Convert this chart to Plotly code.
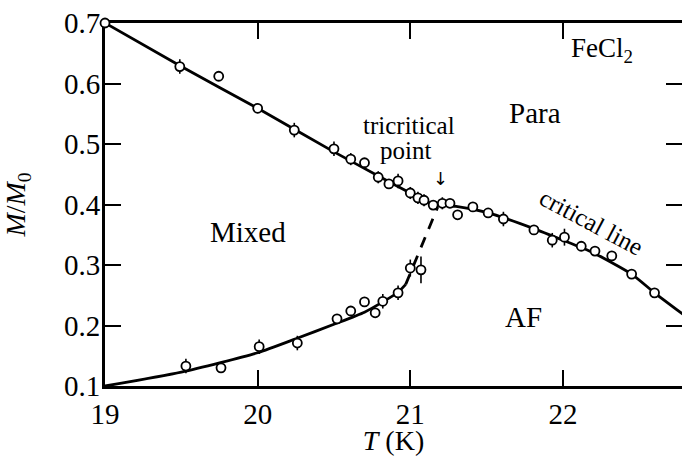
import plotly.graph_objects as go

# ---- data ----
# upper branch (mixed/para boundary and critical line) measured points
up_T = [19.0, 19.49, 19.745, 20.0, 20.24, 20.50, 20.61, 20.70, 20.79, 20.86, 20.92,
        21.00, 21.05, 21.09, 21.15, 21.21, 21.26, 21.31, 21.41, 21.51, 21.61,
        21.81, 21.93, 22.01, 22.12, 22.21, 22.32, 22.45, 22.60]
up_M = [0.700, 0.628, 0.612, 0.559, 0.523, 0.492, 0.475, 0.469, 0.445, 0.434, 0.439,
        0.419, 0.411, 0.407, 0.399, 0.402, 0.402, 0.383, 0.396, 0.386, 0.376,
        0.358, 0.341, 0.346, 0.331, 0.323, 0.315, 0.285, 0.254]
up_err = [0, 0.012, 0.006, 0.008, 0.012, 0.012, 0.010, 0.006, 0.010, 0.006, 0.012,
          0.010, 0.010, 0.010, 0.008, 0.010, 0.006, 0.006, 0.006, 0.006, 0.012,
          0.006, 0.012, 0.014, 0.006, 0.006, 0.008, 0.006, 0.006]

# lower branch (mixed/AF boundary) measured points
lo_T = [19.53, 19.76, 20.01, 20.26, 20.52, 20.61, 20.70, 20.77, 20.82, 20.92, 21.00, 21.07]
lo_M = [0.133, 0.130, 0.165, 0.171, 0.211, 0.224, 0.239, 0.221, 0.240, 0.254, 0.295, 0.292]
lo_err = [0.012, 0.006, 0.012, 0.012, 0.006, 0.006, 0.006, 0.006, 0.012, 0.012, 0.014, 0.022]

# fitted curves
fit_up_T = [19.0, 19.5, 20.0, 20.5, 20.8, 21.0, 21.15, 21.3, 21.5, 21.8, 22.0, 22.2, 22.45, 22.6, 22.8]
fit_up_M = [0.700, 0.628, 0.559, 0.487, 0.446, 0.419, 0.400, 0.397, 0.387, 0.361, 0.341, 0.320, 0.285, 0.254, 0.216]
fit_lo_T = [19.0, 19.5, 20.0, 20.25, 20.5, 20.7, 20.82, 20.92, 20.97]
fit_lo_M = [0.100, 0.123, 0.155, 0.178, 0.202, 0.222, 0.239, 0.255, 0.268]
dash_T = [20.97, 21.18]
dash_M = [0.268, 0.396]

x_ticks = [19, 20, 21, 22]
y_ticks = [0.1, 0.2, 0.3, 0.4, 0.5, 0.6, 0.7]

FONT = "Liberation Serif"
fig = go.Figure()

fig.add_trace(go.Scatter(x=fit_up_T, y=fit_up_M, mode="lines",
                         line=dict(color="black", width=2.8, shape="spline", smoothing=0.6),
                         hoverinfo="skip"))
fig.add_trace(go.Scatter(x=fit_lo_T, y=fit_lo_M, mode="lines",
                         line=dict(color="black", width=2.8, shape="spline", smoothing=0.6),
                         hoverinfo="skip"))
fig.add_trace(go.Scatter(x=dash_T, y=dash_M, mode="lines", yaxis="y2",
                         line=dict(color="black", width=2.8, dash="11px,9px"),
                         hoverinfo="skip"))

marker = dict(symbol="circle", size=9, color="white", line=dict(color="black", width=1.8))
for T, M, E in [(up_T, up_M, up_err), (lo_T, lo_M, lo_err)]:
    fig.add_trace(go.Scatter(x=T, y=M, mode="markers", marker=marker, cliponaxis=False,
                             error_y=dict(type="data", array=E, visible=True, width=0,
                                          thickness=1.6, color="black")))

ann_font = dict(family=FONT, size=29, color="black")
small_font = dict(family=FONT, size=25, color="black")
annotations = [
    dict(x=19.94, y=0.355, text="Mixed", font=ann_font),
    dict(x=21.82, y=0.551, text="Para", font=ann_font),
    dict(x=21.74, y=0.214, text="AF", font=ann_font),
    dict(x=22.04, y=0.655, text="FeCl<sub>2</sub>", font=dict(family=FONT, size=27, color="black"),
         xanchor="left"),
    dict(x=20.99, y=0.531, text="tricritical", font=small_font),
    dict(x=20.97, y=0.489, text="point", font=small_font),
    dict(x=21.20, y=0.443, text="↓", font=dict(family="DejaVu Sans", size=18, color="black")),
    dict(x=22.19, y=0.371, text="critical line", font=small_font, textangle=28),
]
for a in annotations:
    a.update(xref="x", yref="y", showarrow=False)

axis_common = dict(showgrid=False, zeroline=False, ticks="inside", ticklen=16, tickwidth=2,
                   tickcolor="black", linecolor="black", linewidth=3, automargin=False,
                   tickfont=dict(family=FONT, size=29, color="black"))

fig.update_layout(
    width=682, height=456,
    margin=dict(l=105, r=0, t=23, b=70, autoexpand=False),
    paper_bgcolor="white", plot_bgcolor="white",
    showlegend=False,
    annotations=annotations,
    xaxis=dict(range=[19, 22.78], tickvals=x_ticks, ticktext=[str(v) for v in x_ticks],
               showline=True, mirror="ticks", layer="below traces",
               title=dict(text="<i>T</i> (K)", font=dict(family=FONT, size=28, color="black"),
                          standoff=3),
               **axis_common),
    yaxis=dict(range=[0.1, 0.7], tickvals=y_ticks, ticktext=[f"{v:.1f}" for v in y_ticks],
               showline=True, mirror=False, layer="below traces", ticklabelstandoff=-4,
               title=dict(text="<i>M</i>/<i>M</i><sub>0</sub>",
                          font=dict(family=FONT, size=28, color="black"), standoff=34),
               **axis_common),
    yaxis2=dict(overlaying="y", side="right", matches="y", tickvals=y_ticks,
                showticklabels=False, showline=False, showgrid=False, zeroline=False,
                automargin=False,
                ticks="inside", ticklen=16, tickwidth=2, tickcolor="black"),
)

fig.write_html("out.html", config={"displayModeBar": False},
               post_script="document.body.style.margin='0';document.body.style.overflow='hidden';")
